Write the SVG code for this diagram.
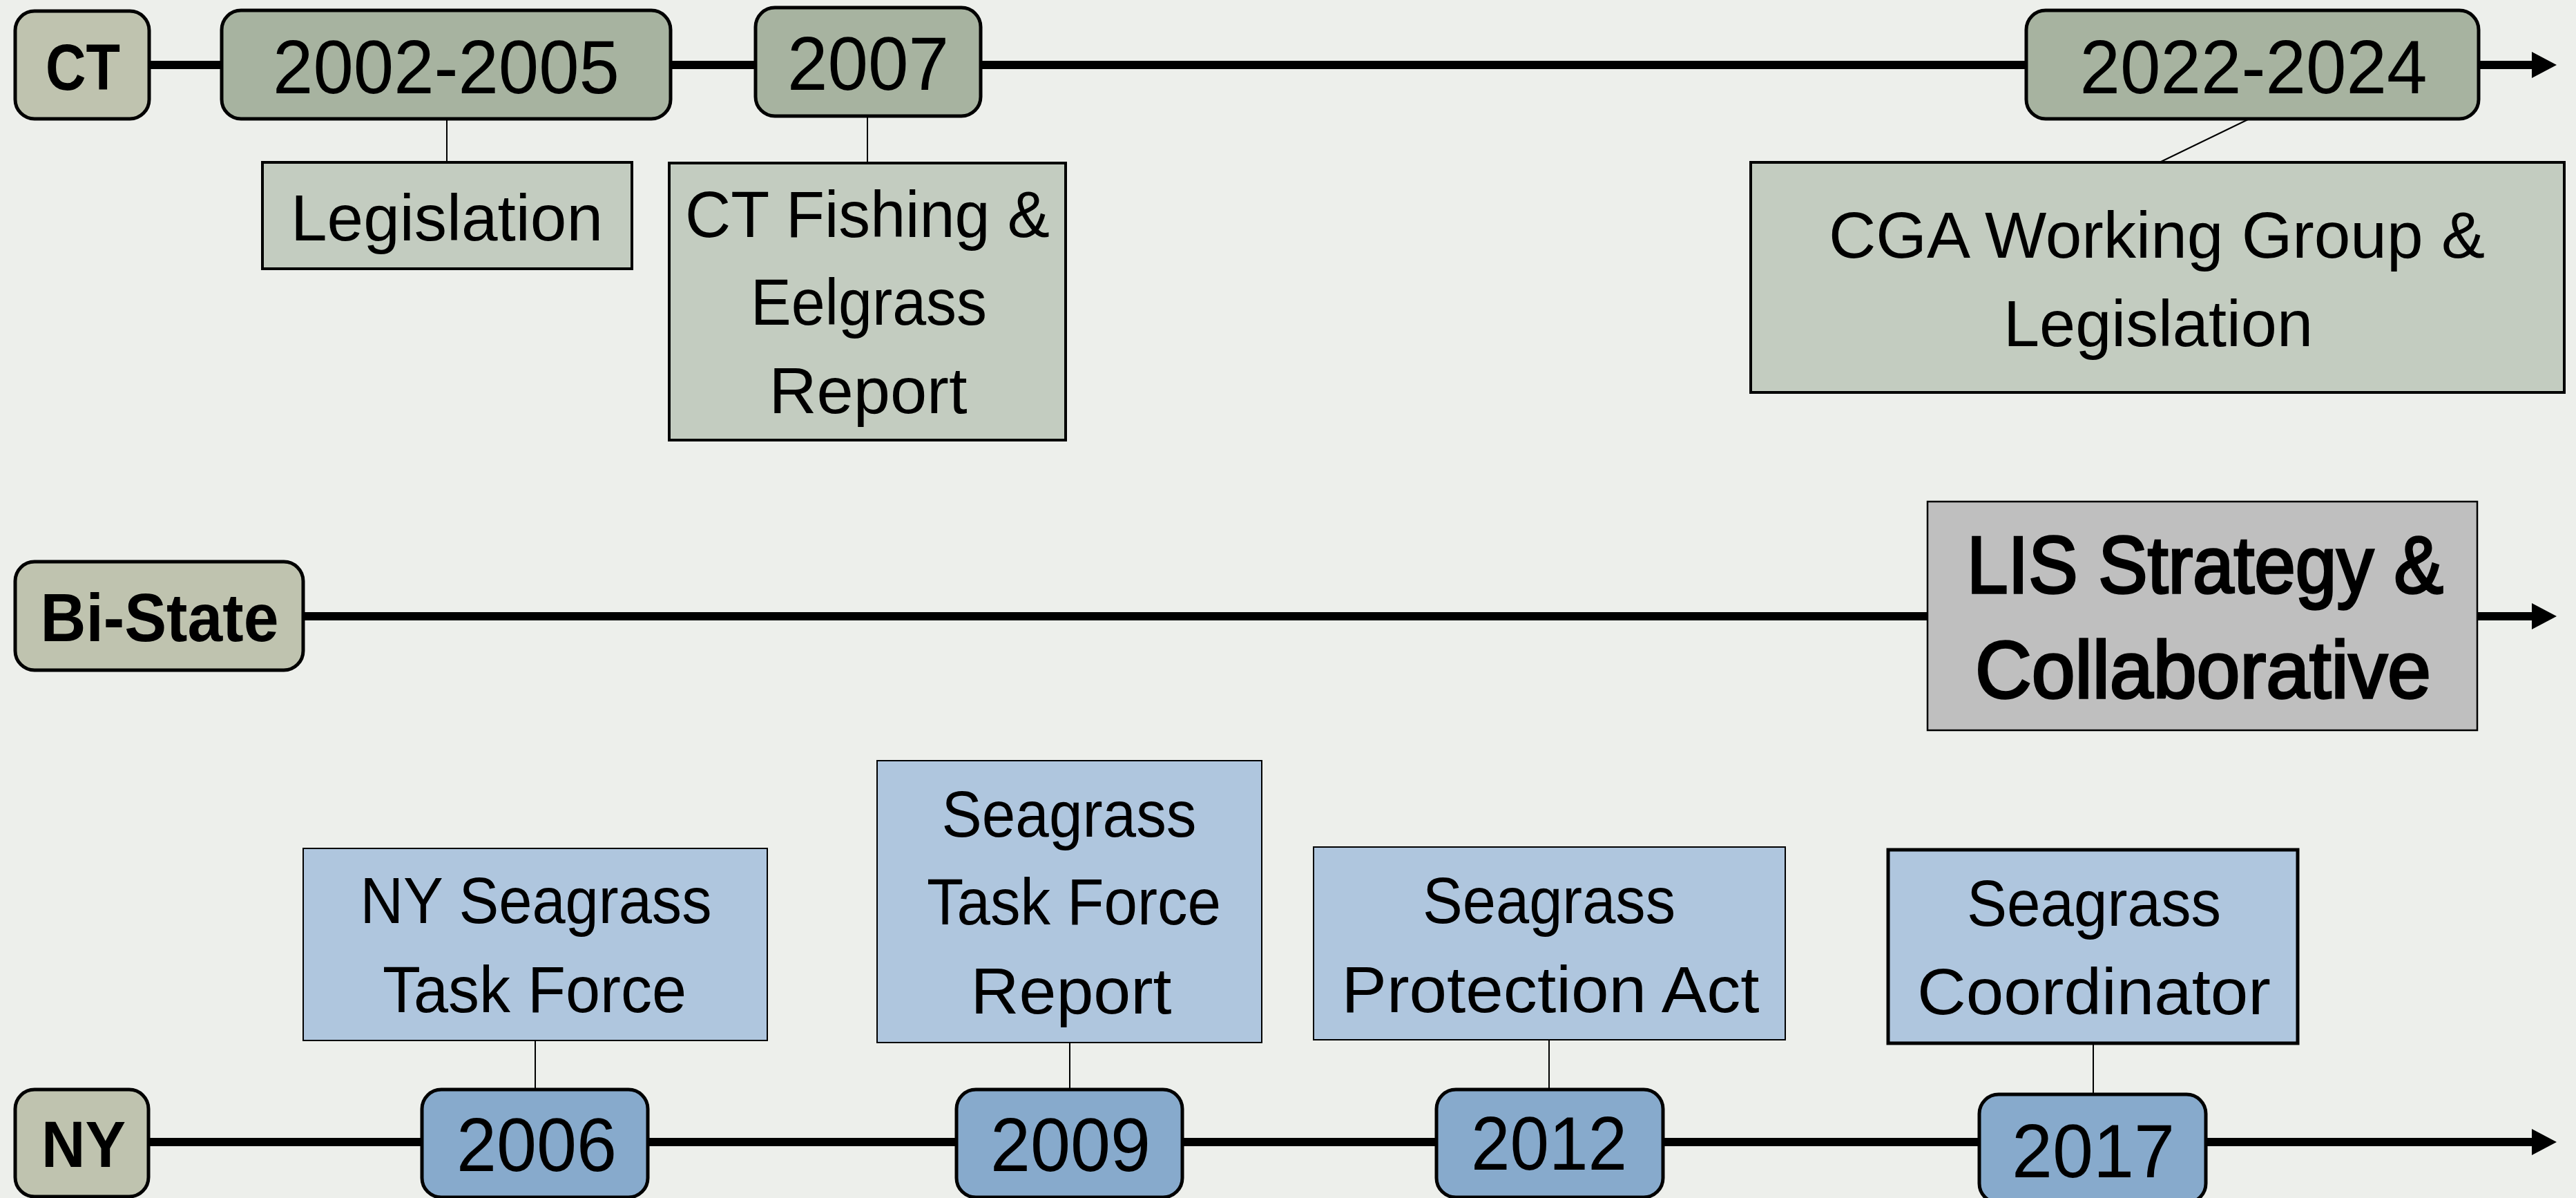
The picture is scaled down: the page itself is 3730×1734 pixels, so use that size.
<svg xmlns="http://www.w3.org/2000/svg" width="3730" height="1734" viewBox="0 0 3730 1734">
<defs>
<style>
text{font-family:"Liberation Sans",Arial,sans-serif;fill:#000;text-anchor:middle}
.lbl{fill:#BFC3AF;stroke:#000;stroke-width:5}
.cty{fill:#A7B3A0;stroke:#000;stroke-width:5}
.ctd{fill:#C3CCC0;stroke:#000;stroke-width:4}
.nyy{fill:#87AACC;stroke:#000;stroke-width:5}
.nyd{fill:#AFC6DE;stroke:#000;stroke-width:2}
.lis{fill:#BFBFBF;stroke:#000;stroke-width:2.5}
.tl{stroke:#000;stroke-width:12;fill:none}
.cn{stroke:#000;stroke-width:2;fill:none}
.b{font-weight:bold;font-size:95px}
.yr{font-size:110px}
.body{font-size:95px}
.big{font-size:117px;stroke:#000;stroke-width:3.5}
</style>
<marker id="arr" markerUnits="userSpaceOnUse" markerWidth="36" markerHeight="38" refX="0" refY="19" orient="auto" viewBox="0 0 36 38">
<path d="M0,0 L36,19 L0,38 Z" fill="#000"/>
</marker>
</defs>
<rect x="0" y="0" width="3730" height="1734" fill="#EDEFEB"/>
<g id="connectors">
<line class="tl" x1="216" y1="94" x2="3666" y2="94" marker-end="url(#arr)"/>
<line class="tl" x1="439" y1="892" x2="3666" y2="892" marker-end="url(#arr)"/>
<line class="tl" x1="214" y1="1653" x2="3666" y2="1653" marker-end="url(#arr)"/>
<line class="cn" x1="647" y1="172" x2="647" y2="235"/>
<line class="cn" x1="1256" y1="168" x2="1256" y2="236"/>
<line class="cn" x1="3257" y1="172" x2="3127" y2="235"/>
<line class="cn" x1="775" y1="1506" x2="775" y2="1577"/>
<line class="cn" x1="1549" y1="1509" x2="1549" y2="1577"/>
<line class="cn" x1="2243" y1="1505" x2="2243" y2="1577"/>
<line class="cn" x1="3031" y1="1512" x2="3031" y2="1584"/>
</g>
<g id="ct-label"><rect class="lbl" x="22" y="16" width="194" height="156" rx="28"/><text class="b" x="120" y="130" textLength="108" lengthAdjust="spacingAndGlyphs">CT</text></g>
<g id="ct-2002-2005"><rect class="cty" x="321" y="15" width="650" height="157" rx="28"/><text class="yr" x="646" y="135" textLength="502" lengthAdjust="spacingAndGlyphs">2002-2005</text></g>
<g id="ct-2007"><rect class="cty" x="1094" y="11" width="326" height="157" rx="28"/><text class="yr" x="1257" y="130" textLength="234" lengthAdjust="spacingAndGlyphs">2007</text></g>
<g id="ct-2022-2024"><rect class="cty" x="2934" y="15" width="655" height="157" rx="28"/><text class="yr" x="3263" y="135" textLength="503" lengthAdjust="spacingAndGlyphs">2022-2024</text></g>
<g id="ct-legislation"><rect class="ctd" x="380" y="235" width="535" height="154"/><text class="body" x="647" y="348" textLength="452" lengthAdjust="spacingAndGlyphs">Legislation</text></g>
<g id="ct-fishing-report"><rect class="ctd" x="969" y="236" width="574" height="401"/>
<text class="body" x="1256" y="343" textLength="528" lengthAdjust="spacingAndGlyphs">CT Fishing &amp;</text>
<text class="body" x="1258" y="470" textLength="342" lengthAdjust="spacingAndGlyphs">Eelgrass</text>
<text class="body" x="1257" y="598" textLength="287" lengthAdjust="spacingAndGlyphs">Report</text></g>
<g id="ct-cga"><rect class="ctd" x="2535" y="235" width="1178" height="333"/>
<text class="body" x="3123" y="373" textLength="950" lengthAdjust="spacingAndGlyphs">CGA Working Group &amp;</text>
<text class="body" x="3125" y="501" textLength="448" lengthAdjust="spacingAndGlyphs">Legislation</text></g>
<g id="bistate-label"><rect class="lbl" x="22" y="813" width="417" height="157" rx="28"/><text class="b" x="231" y="928" textLength="345" lengthAdjust="spacingAndGlyphs" style="font-size:98px">Bi-State</text></g>
<g id="lis-strategy"><rect class="lis" x="2791" y="726" width="796" height="331"/>
<text class="big" x="3193" y="858" textLength="690" lengthAdjust="spacingAndGlyphs">LIS Strategy &amp;</text>
<text class="big" x="3190" y="1010" textLength="660" lengthAdjust="spacingAndGlyphs">Collaborative</text></g>
<g id="ny-label"><rect class="lbl" x="22" y="1577" width="193" height="155" rx="28"/><text class="b" x="121" y="1689" textLength="122" lengthAdjust="spacingAndGlyphs">NY</text></g>
<g id="ny-taskforce"><rect class="nyd" x="439" y="1228" width="672" height="278"/>
<text class="body" x="776" y="1336" textLength="509" lengthAdjust="spacingAndGlyphs">NY Seagrass</text>
<text class="body" x="774" y="1465" textLength="440" lengthAdjust="spacingAndGlyphs">Task Force</text></g>
<g id="ny-report"><rect class="nyd" x="1270" y="1101" width="557" height="408"/>
<text class="body" x="1548" y="1211" textLength="369" lengthAdjust="spacingAndGlyphs">Seagrass</text>
<text class="body" x="1555" y="1338" textLength="426" lengthAdjust="spacingAndGlyphs">Task Force</text>
<text class="body" x="1551" y="1467" textLength="291" lengthAdjust="spacingAndGlyphs">Report</text></g>
<g id="ny-protection-act"><rect class="nyd" x="1902" y="1226" width="683" height="279"/>
<text class="body" x="2243" y="1336" textLength="366" lengthAdjust="spacingAndGlyphs">Seagrass</text>
<text class="body" x="2245" y="1465" textLength="605" lengthAdjust="spacingAndGlyphs">Protection Act</text></g>
<g id="ny-coordinator"><rect class="nyd" x="2734" y="1230" width="593" height="280" style="stroke-width:5"/>
<text class="body" x="3032" y="1340" textLength="368" lengthAdjust="spacingAndGlyphs">Seagrass</text>
<text class="body" x="3032" y="1468" textLength="512" lengthAdjust="spacingAndGlyphs">Coordinator</text></g>
<g id="ny-2006"><rect class="nyy" x="611" y="1577" width="327" height="156" rx="28"/><text class="yr" x="777" y="1695" textLength="232" lengthAdjust="spacingAndGlyphs">2006</text></g>
<g id="ny-2009"><rect class="nyy" x="1385" y="1577" width="327" height="156" rx="28"/><text class="yr" x="1550" y="1695" textLength="232" lengthAdjust="spacingAndGlyphs">2009</text></g>
<g id="ny-2012"><rect class="nyy" x="2080" y="1577" width="328" height="156" rx="28"/><text class="yr" x="2243" y="1693" textLength="226" lengthAdjust="spacingAndGlyphs">2012</text></g>
<g id="ny-2017"><rect class="nyy" x="2866" y="1584" width="328" height="157" rx="28"/><text class="yr" x="3031" y="1704" textLength="236" lengthAdjust="spacingAndGlyphs">2017</text></g>
</svg>
